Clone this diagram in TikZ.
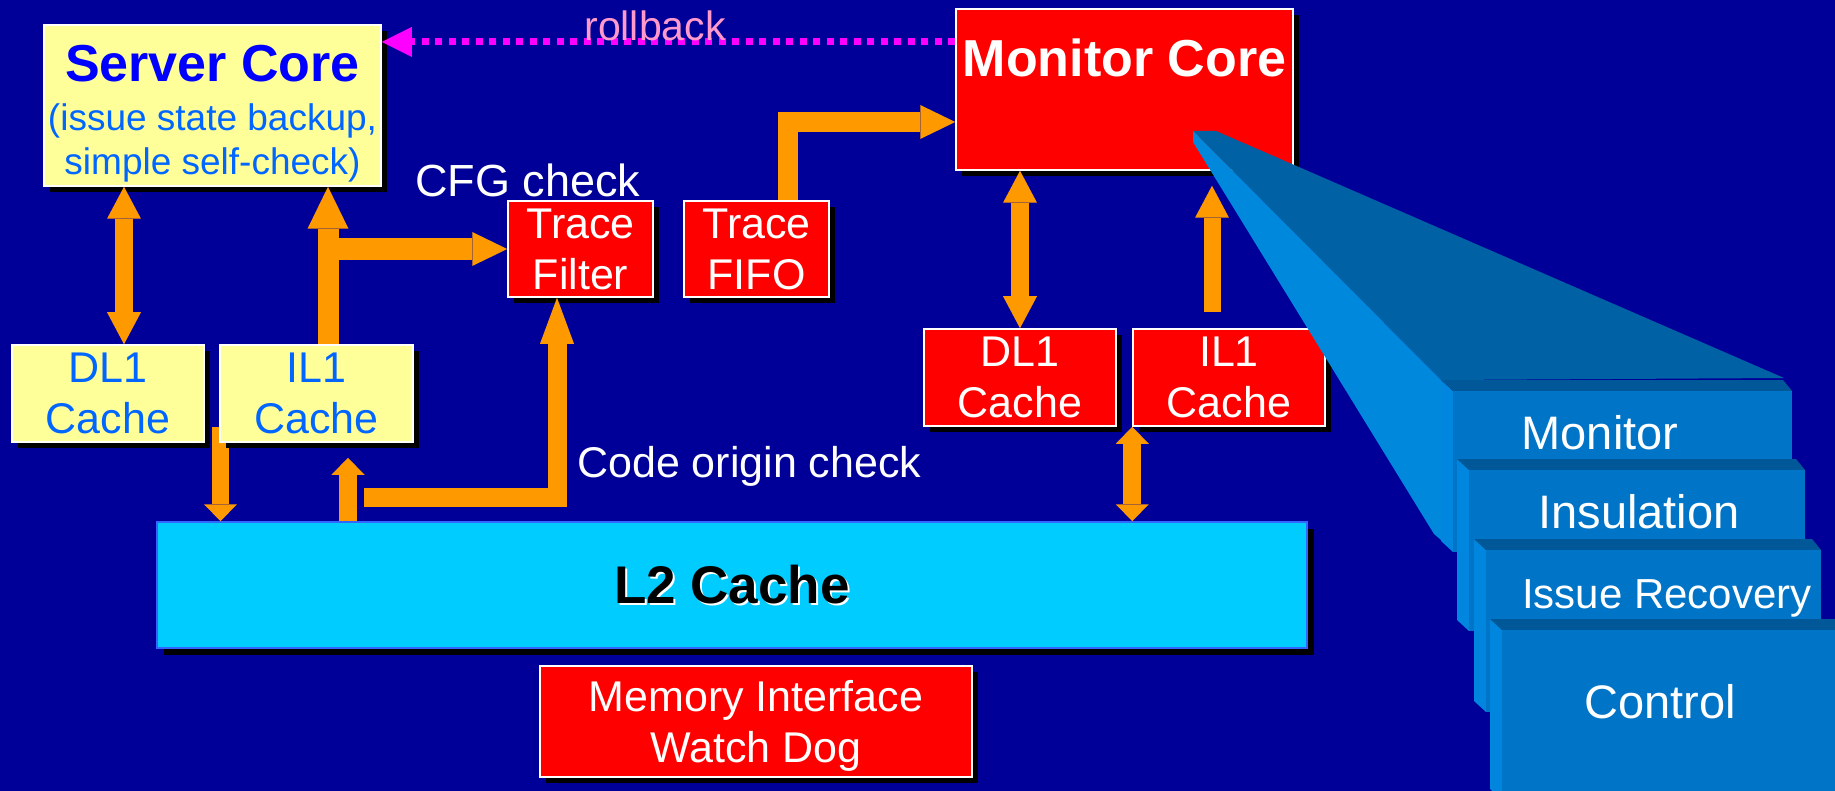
\documentclass[tikz,border=0pt]{standalone}
\usepackage{fontspec}
\setmainfont{Liberation Sans}
\usetikzlibrary{arrows.meta,shadows}

\definecolor{navy}{RGB}{0,0,153}
\definecolor{lemon}{RGB}{255,255,153}
\definecolor{skyblue}{RGB}{0,204,255}
\definecolor{amber}{RGB}{255,153,0}
\definecolor{hotpink}{RGB}{255,0,255}
\definecolor{rosetext}{RGB}{255,153,204}
\definecolor{linkblue}{RGB}{0,102,255}
\definecolor{l2edge}{RGB}{51,102,255}
\definecolor{beamtop}{RGB}{0,98,164}
\definecolor{beamside}{RGB}{0,136,221}
\definecolor{slabface}{RGB}{0,116,198}
\definecolor{slabtop}{RGB}{0,88,152}
\definecolor{slabside}{RGB}{0,134,222}

\newcommand{\boxsize}{\fontsize{43}{51}\selectfont}
\newcommand{\titlesize}{\fontsize{52}{60}\selectfont\bfseries}
\newcommand{\shadowed}[1]{\makebox[0pt][l]{\hspace{2pt}\raisebox{-2pt}[0pt][0pt]{\color{white}#1}}#1}

\tikzset{
  panel/.style={draw=white, line width=1.5pt, inner sep=0pt,
    drop shadow={shadow xshift=6pt, shadow yshift=-6pt, fill=black, opacity=1}},
  ybox/.style={panel, fill=lemon, text=linkblue, align=center, font=\boxsize},
  rbox/.style={panel, fill=red, text=white, align=center, font=\boxsize},
  l2box/.style={draw=l2edge, line width=1.5pt, fill=skyblue, inner sep=0pt,
    font=\fontsize{53}{60}\selectfont\bfseries,
    drop shadow={shadow xshift=7pt, shadow yshift=-7pt, fill=black, opacity=1}},
  tag/.style={inner sep=0pt, anchor=base, text=white},
  pipe/.style={draw=amber, line width=#1},
  rollline/.style={draw=hotpink, line width=7pt, dash pattern=on 7pt off 6.5pt},
  tipstd/.tip={Triangle[length=32pt, width=34pt, line width=0pt]},
  tipbig/.tip={Triangle[length=42pt, width=41pt, line width=0pt]},
  tipmid/.tip={Triangle[length=35pt, width=34pt, line width=0pt]},
  tiplong/.tip={Triangle[length=46pt, width=34pt, line width=0pt]},
  tipshort/.tip={Triangle[length=17pt, width=33pt, line width=0pt]},
  tiproll/.tip={Triangle[length=30pt, width=30pt, line width=0pt]},
}

\begin{document}
\begin{tikzpicture}[x=1pt, y=-1pt]
  \useasboundingbox (0,0) rectangle (1835,791);
  \fill[navy] (0,0) rectangle (1835,791);

  % shared
  \node[l2box, minimum width=1150pt, minimum height=126pt] (l2) at (732,585) {\shadowed{L2 Cache}};
  \node[rbox, minimum width=432pt, minimum height=111pt, text depth=0pt] (memwd) at (756,721.5) {Memory Interface\\Watch Dog};
  \coordinate (gaptop) at (220.5,427);
  \coordinate (cstart) at (364,497);
  \draw[pipe=17pt, -{tipshort}] (gaptop) -- (gaptop |- l2.north);

  % server side
  \node[panel, fill=lemon, minimum width=337pt, minimum height=161pt] (server) at (212.5,105.5) {};
  \node[ybox, minimum width=192pt, minimum height=97pt] (sdl1) at (108,393.5) {DL1\\Cache};
  \node[ybox, minimum width=193pt, minimum height=97pt] (sil1) at (316.5,393.5) {IL1\\Cache};
  \node[rbox, minimum width=145pt, minimum height=96pt] (tfilter) at (580.5,249) {Trace\\Filter};
  \node[rbox, minimum width=145pt, minimum height=96pt] (fifo) at (756.5,249) {Trace\\FIFO};

  % monitor side
  \node[panel, fill=red, minimum width=337pt, minimum height=161pt] (mcore) at (1124.5,89.5) {};
  \node[rbox, minimum width=192pt, minimum height=97pt] (mdl1) at (1020,377.5) {DL1\\Cache};
  \node[rbox, minimum width=192pt, minimum height=97pt] (mil1) at (1229,377.5) {IL1\\Cache};

  % titles
  \node[tag, text=blue, font=\titlesize] (servertitle) at (212.5,82) {Server Core};
  \node[tag, text=linkblue, font=\fontsize{37}{44}\selectfont] (servernote) at (212.5,131) {(issue state backup,};
  \node[tag, text=linkblue, font=\fontsize{37}{44}\selectfont] (servernote2) at (212.5,175) {simple self-check)};
  \node[tag, font=\titlesize] (mcoretitle) at (1124.5,77) {Monitor Core};

  % data paths
  \draw[pipe=18pt, {tipstd}-{tipstd}] (124,0 |- sdl1.north) -- (124,0 |- server.south);
  \draw[pipe=21pt, -{tipbig}] (328,0 |- sil1.north) -- (328,0 |- server.south);
  \draw[pipe=22pt, -{tipmid}] (328,0 |- tfilter.west) -- (tfilter.west);
  \draw[pipe=19pt, -{tiplong}] (cstart) -| (557,0 |- tfilter.south);
  \draw[pipe=20pt, -{tipmid}] (788,0 |- fifo.north) |- (mcore.west |- 0,122);
  \draw[pipe=18pt, {tipstd}-{tipstd}] (mdl1.north) -- (mdl1.north |- mcore.south);
  \draw[pipe=17pt, -{tipstd}, shorten <=16pt, shorten >=15pt] (1212,0 |- mil1.north) -- (1212,0 |- mcore.south);
  \draw[pipe=18pt, {tipshort}-{tipshort}] (mil1.south west) -- (mil1.south west |- l2.north);
  \draw[pipe=18pt, -{tipshort}, shorten >=15pt] (348,0 |- l2.north) -- (348,0 |- sil1.south);

  % rollback
  \draw[rollline, -{tiproll}] (mcore.west |- 0,42) -- (server.east |- 0,42);
  \node[tag, text=rosetext, font=\fontsize{41}{48}\selectfont] (rolltext) at (655,41) {rollback};
  \node[tag, font=\fontsize{45}{52}\selectfont] (cfgtext) at (528,197) {CFG check};
  \node[tag, anchor=base west, font=\boxsize] (origintext) at (577,477) {Code origin check};

  % close-up of the monitor core
  \fill[beamtop] (1193,131) -- (1216,131) -- (1784,378) -- (1441,380) -- cycle;
  \fill[beamside] (1193,131) -- (1441,380) -- (1441,540) -- (1434,534) -- (1193,142) -- cycle;
  \foreach \xl/\yt/\xr/\yb in {1453/391/1792/552, 1469/470/1805/631, 1486/550/1821/712, 1502/630/1845/800}{
    \fill[slabside] (\xl-12,\yt-11) -- (\xl,\yt) -- (\xl,\yb) -- (\xl-12,\yb-11) -- cycle;
    \fill[slabtop] (\xl-12,\yt-11) -- (\xr-9,\yt-11) -- (\xr,\yt) -- (\xl,\yt) -- cycle;
    \fill[slabface] (\xl,\yt) rectangle (\xr,\yb);
  }
  \node[tag, font=\fontsize{47}{54}\selectfont] (monitor) at (1600,449) {Monitor};
  \node[tag, font=\fontsize{47}{54}\selectfont] (insulation) at (1639,528) {Insulation};
  \node[tag, font=\fontsize{42}{50}\selectfont] (recovery) at (1667,608) {Issue Recovery};
  \node[tag, font=\fontsize{47}{54}\selectfont] (control) at (1660,718) {Control};
\end{tikzpicture}
\end{document}
